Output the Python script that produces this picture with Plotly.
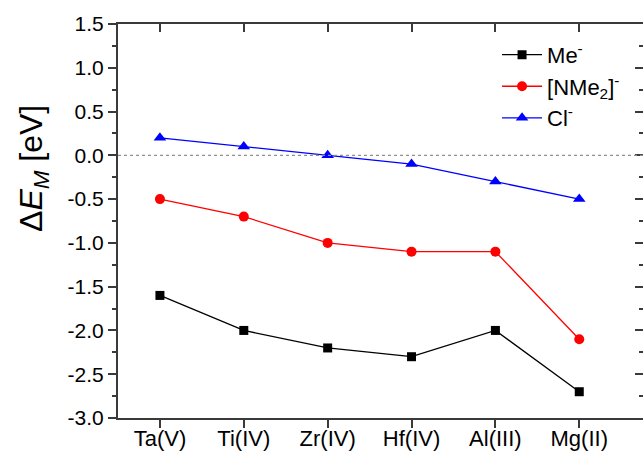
import plotly.graph_objects as go

categories = ["Ta(V)", "Ti(IV)", "Zr(IV)", "Hf(IV)", "Al(III)", "Mg(II)"]
me_vals = [-1.6, -2.0, -2.2, -2.3, -2.0, -2.7]
nme2_vals = [-0.5, -0.7, -1.0, -1.1, -1.1, -2.1]
cl_vals = [0.2, 0.1, 0.0, -0.1, -0.3, -0.5]
ytick_vals = [1.5, 1.0, 0.5, 0.0, -0.5, -1.0, -1.5, -2.0, -2.5, -3.0]
ytick_text = ["1.5", "1.0", "0.5", "0.0", "-0.5", "-1.0", "-1.5", "-2.0", "-2.5", "-3.0"]

FONT = "Arial"
AX = "#3a3a3a"

fig = go.Figure()
fig.add_trace(go.Scatter(x=categories, y=me_vals, mode="lines+markers",
                         name="Me<sup>-</sup>",
                         line=dict(color="black", width=1.3),
                         marker=dict(symbol="square", size=9, color="black")))
fig.add_trace(go.Scatter(x=categories, y=nme2_vals, mode="lines+markers",
                         name="[NMe<sub>2</sub>]<sup>-</sup>",
                         line=dict(color="#ff0000", width=1.3),
                         marker=dict(symbol="circle", size=10, color="#ff0000")))
fig.add_trace(go.Scatter(x=categories, y=cl_vals, mode="lines+markers",
                         name="Cl<sup>-</sup>",
                         line=dict(color="#0000ff", width=1.3),
                         marker=dict(symbol="triangle-up", size=11, color="#0000ff")))
# invisible trace for mirror axes
fig.add_trace(go.Scatter(x=categories, y=[None] * len(categories), xaxis="x2", yaxis="y2",
                         mode="markers", showlegend=False, hoverinfo="skip"))

xr = [-0.5, 5.76]
yr = [-3.0, 1.5]

fig.add_shape(type="line", xref="paper", yref="y", x0=0, x1=1, y0=0, y1=0,
              line=dict(color="#909090", width=1.2, dash="dot"))

fig.update_layout(
    width=643, height=451,
    margin=dict(l=118, r=0, t=24, b=33, autoexpand=False),
    paper_bgcolor="white", plot_bgcolor="white",
    font=dict(family=FONT, size=21, color="black"),
    showlegend=True,
    legend=dict(x=0.722, y=0.975, xanchor="left", yanchor="top",
                bgcolor="rgba(0,0,0,0)", font=dict(size=22, family=FONT),
                tracegroupgap=0, itemwidth=40),
    xaxis=dict(type="category", range=xr, showgrid=False, zeroline=False,
               showline=True, linecolor=AX, linewidth=2,
               ticks="outside", ticklen=8, tickwidth=1.5, tickcolor=AX,
               ticklabelstandoff=-8,
               tickfont=dict(size=22, family=FONT), fixedrange=True),
    yaxis=dict(range=yr, showgrid=False, zeroline=False,
               showline=True, linecolor=AX, linewidth=2,
               tickvals=ytick_vals, ticktext=ytick_text,
               ticks="outside", ticklen=8, tickwidth=1.5, tickcolor=AX,
               minor=dict(dtick=0.25, tick0=0, ticks="outside", ticklen=4, tickwidth=1.5, tickcolor=AX),
               tickfont=dict(size=21, family=FONT)),
    xaxis2=dict(type="category", range=xr, overlaying="x", side="top", anchor="y2",
                showgrid=False, zeroline=False, showline=True, linecolor=AX, linewidth=2,
                ticks="inside", ticklen=8, tickwidth=1.5, tickcolor=AX,
                showticklabels=False),
    yaxis2=dict(range=yr, overlaying="y", side="right", anchor="x2",
                showgrid=False, zeroline=False, showline=False,
                tick0=0, dtick=0.5, ticks="inside", ticklen=8, tickwidth=1.5, tickcolor=AX,
                minor=dict(dtick=0.25, tick0=0, ticks="inside", ticklen=4, tickwidth=1.5, tickcolor=AX),
                showticklabels=False),
)

fig.add_annotation(text="Δ<i>E<sub>M</sub></i> [eV]", xref="paper", yref="paper",
                   x=-0.16, y=0.632, xanchor="center", yanchor="middle",
                   textangle=-90, showarrow=False, font=dict(size=32, family=FONT))

fig.write_html("out.html")
